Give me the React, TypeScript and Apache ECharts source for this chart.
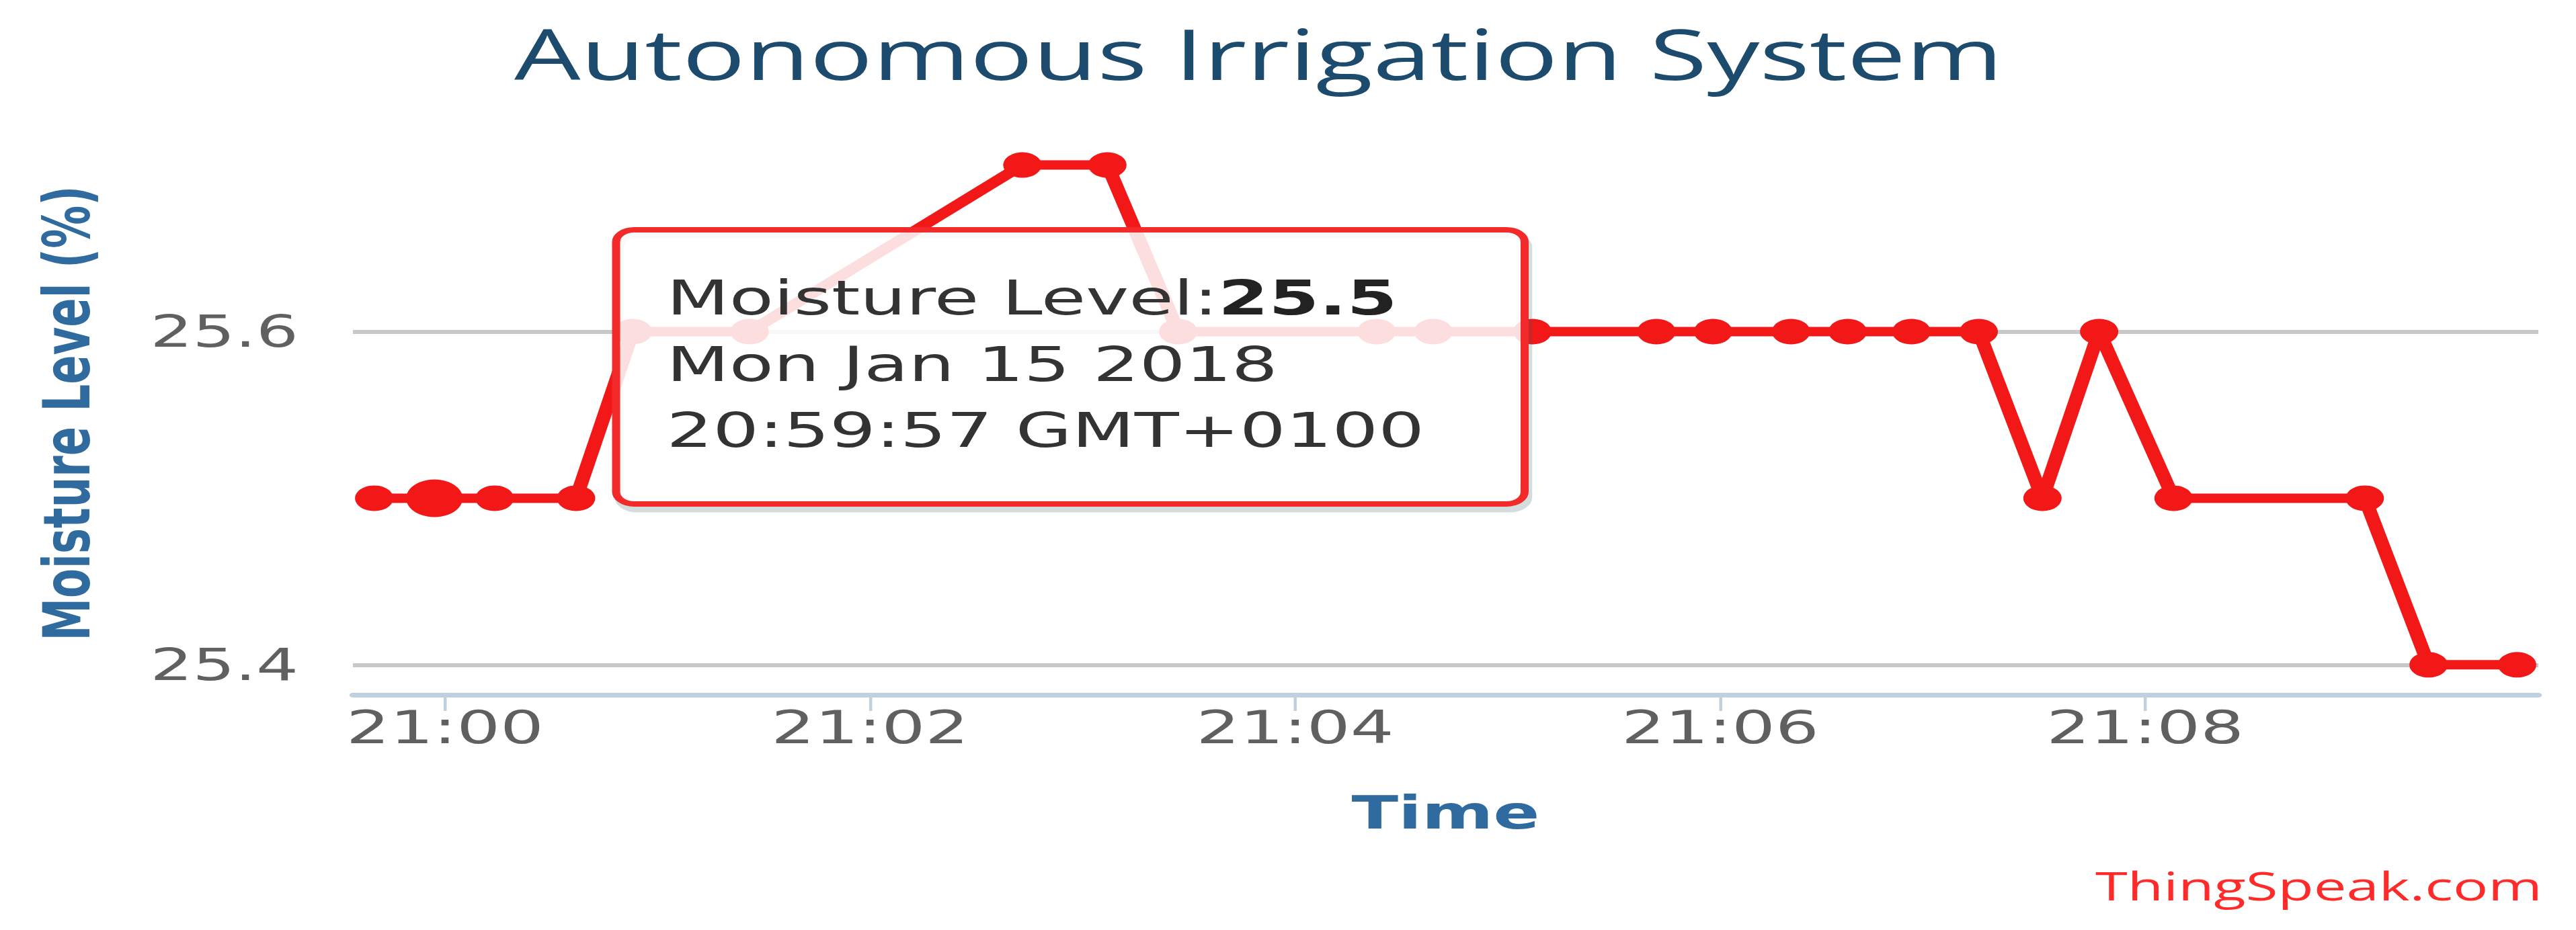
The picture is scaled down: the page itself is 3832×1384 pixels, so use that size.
import React, { useEffect, useRef } from 'react';
import * as echarts from 'echarts';

// The reference picture is a ThingSpeak / Highcharts chart stretched horizontally.
const STRETCH = 1.5;
const PAGE_W = 3832;
const PAGE_H = 1384;
const LAYOUT_W = PAGE_W / STRETCH;

const RED = '#f21818';

// ---- data -------------------------------------------------------------
const times = [
  '20:59:40', '20:59:57', '21:00:14', '21:00:37', '21:00:53', '21:01:26',
  '21:02:43', '21:03:07', '21:03:27', '21:04:23', '21:04:39', '21:05:07',
  '21:05:42', '21:05:58', '21:06:20', '21:06:36', '21:06:54', '21:07:13',
  '21:07:31', '21:07:47', '21:08:08', '21:09:02', '21:09:20', '21:09:45',
];
const moisture = [
  25.5, 25.5, 25.5, 25.5, 25.6, 25.6,
  25.7, 25.7, 25.6, 25.6, 25.6, 25.6,
  25.6, 25.6, 25.6, 25.6, 25.6, 25.6,
  25.5, 25.6, 25.5, 25.5, 25.4, 25.4,
];
const xTickLabels = ['21:00', '21:02', '21:04', '21:06', '21:08'];
const yTickValues = [25.4, 25.6];
const xRange = ['20:59:34', '21:09:51'];
const yRange = [25.382, 25.72];

const titleText = 'Autonomous Irrigation System';
const xAxisTitle = 'Time';
const yAxisTitle = 'Moisture Level (%)';
const seriesName = 'Moisture Level';
const creditText = 'ThingSpeak.com';
const hoverIndex = 1;
const hoverDate = 'Mon Jan 15 2018';
const hoverZone = 'GMT+0100';

// ---- helpers -----------------------------------------------------------
const toMs = (t: string) => {
  const [h, m, s] = t.split(':').map(Number);
  return Date.UTC(2018, 0, 15, h, m, s || 0);
};
const pad = (n: number) => (n < 10 ? '0' + n : '' + n);
const fmtHM = (ms: number) => {
  const d = new Date(ms);
  return pad(d.getUTCHours()) + ':' + pad(d.getUTCMinutes());
};

export default function App() {
  const ref = useRef<HTMLDivElement>(null);

  useEffect(() => {
    if (!ref.current) return;
    const chart = echarts.init(ref.current, undefined, { renderer: 'svg' });

    const seriesData = times.map((t, i) =>
      i === hoverIndex
        ? { value: [toMs(t), moisture[i]], symbolSize: 56 }
        : [toMs(t), moisture[i]]
    );

    const xTicks = xTickLabels.map(toMs);
    const tipFont = { fontFamily: 'DejaVu Sans', fontSize: 72, fill: '#333333' };

    chart.setOption({
      animation: false,
      backgroundColor: '#ffffff',
      title: {
        text: titleText,
        left: 505,
        top: 22,
        textStyle: {
          fontFamily: 'Open Sans',
          fontSize: 104,
          fontWeight: 'normal',
          color: '#1d4b6e',
        },
      },
      grid: {
        left: 350,
        right: LAYOUT_W - 2517,
        top: 196,
        bottom: 350,
        containLabel: false,
      },
      xAxis: {
        type: 'value',
        min: toMs(xRange[0]),
        max: toMs(xRange[1]),
        name: xAxisTitle,
        nameLocation: 'middle',
        nameGap: 141,
        nameTextStyle: {
          fontFamily: 'DejaVu Sans',
          fontWeight: 'bold',
          fontSize: 68,
          color: '#2f6b9f',
        },
        axisLine: { show: true, lineStyle: { color: '#c0d0e0', width: 7 } },
        axisTick: {
          show: true,
          length: 24,
          customValues: xTicks,
          lineStyle: { color: '#c0d0e0', width: 3 },
        },
        axisLabel: {
          customValues: xTicks,
          formatter: (v: number) => fmtHM(v),
          fontFamily: 'DejaVu Sans',
          fontSize: 68,
          color: '#606060',
          margin: 14,
        },
        splitLine: { show: false },
      },
      yAxis: {
        type: 'value',
        min: yRange[0],
        max: yRange[1],
        name: yAxisTitle,
        nameLocation: 'middle',
        nameRotate: 90,
        nameGap: 252,
        nameTextStyle: {
          fontFamily: 'DejaVu Sans',
          fontWeight: 'bold',
          fontSize: 64,
          color: '#2f6b9f',
        },
        axisLine: { show: false },
        axisTick: { show: false, customValues: yTickValues },
        axisLabel: {
          customValues: yTickValues,
          formatter: (v: number) => v.toFixed(1),
          fontFamily: 'DejaVu Sans',
          fontSize: 66,
          color: '#606060',
          margin: 54,
        },
        splitLine: { show: true, lineStyle: { color: '#c8c8c8', width: 6 } },
      },
      series: [
        {
          name: seriesName,
          type: 'line',
          data: seriesData,
          symbol: 'circle',
          symbolSize: 38,
          showAllSymbol: true,
          clip: false,
          lineStyle: { color: RED, width: 14 },
          itemStyle: { color: RED },
          z: 3,
        },
      ],
      graphic: [
        {
          type: 'rect',
          z: 100,
          zlevel: 0,
          shape: { x: 614, y: 350, width: 901, height: 408, r: 18 },
          style: {
            fill: 'none',
            stroke: 'rgba(60,100,100,0.22)',
            lineWidth: 9,
          },
        },
        {
          type: 'rect',
          z: 101,
          shape: { x: 611, y: 342, width: 901, height: 408, r: 18 },
          style: {
            fill: 'rgba(255,255,255,0.86)',
            stroke: '#f22a2a',
            lineWidth: 8,
          },
        },
        {
          type: 'text',
          z: 102,
          x: 661,
          y: 443,
          style: {
            text:
              '{n|' + seriesName + ':}{b|' + moisture[hoverIndex].toFixed(1) + '}',
            verticalAlign: 'middle',
            align: 'left',
            rich: {
              n: { ...tipFont },
              b: { ...tipFont, fontWeight: 'bold', fill: '#222222' },
            },
          },
        },
        {
          type: 'text',
          z: 102,
          x: 661,
          y: 542,
          style: {
            ...tipFont,
            text: hoverDate,
            verticalAlign: 'middle',
            align: 'left',
          },
        },
        {
          type: 'text',
          z: 102,
          x: 661,
          y: 640,
          style: {
            ...tipFont,
            text: times[hoverIndex] + ' ' + hoverZone,
            verticalAlign: 'middle',
            align: 'left',
          },
        },
        {
          type: 'text',
          right: LAYOUT_W - 2521,
          top: 1289,
          z: 100,
          style: {
            text: creditText,
            fontFamily: 'Open Sans',
            fontSize: 58,
            fill: '#ff2a2a',
          },
        },
      ],
    });

    return () => chart.dispose();
  }, []);

  return (
    <div
      style={{
        position: 'fixed',
        left: 0,
        top: 0,
        width: PAGE_W,
        height: PAGE_H,
        overflow: 'hidden',
        background: '#ffffff',
      }}
    >
      <div
        ref={ref}
        style={{
          width: LAYOUT_W,
          height: PAGE_H,
          transform: `scaleX(${STRETCH})`,
          transformOrigin: '0 0',
        }}
      />
    </div>
  );
}
